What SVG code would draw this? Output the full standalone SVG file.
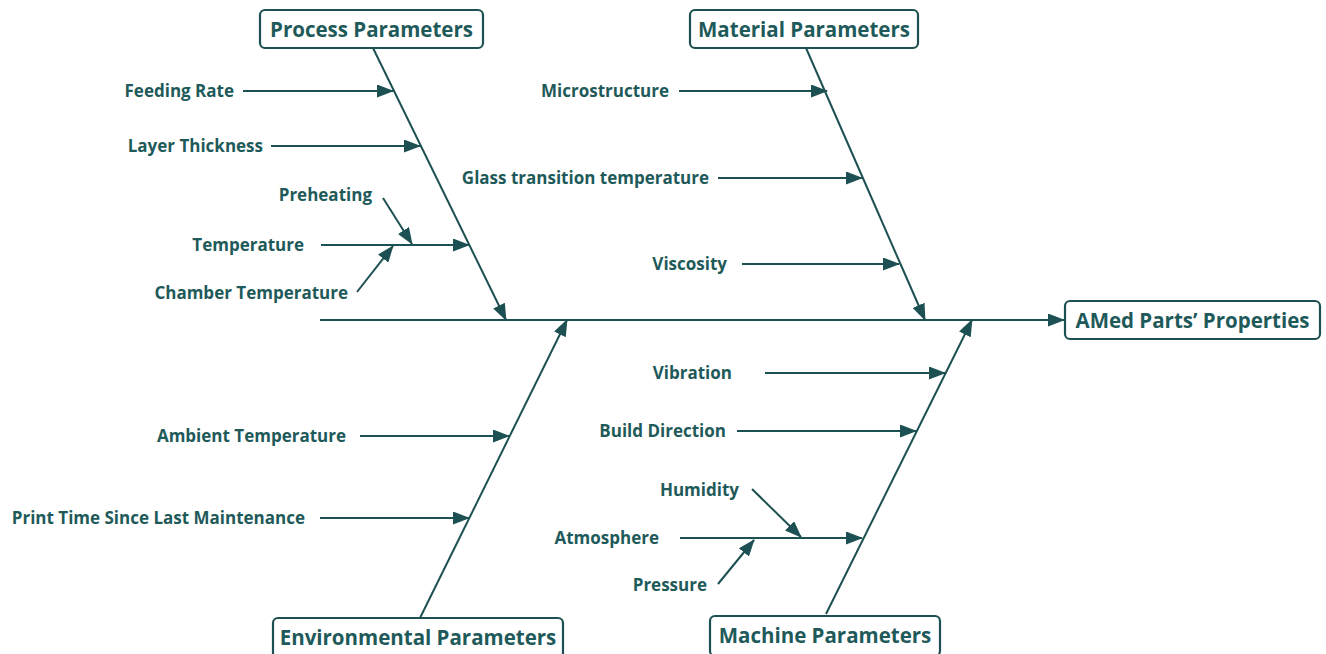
<svg xmlns="http://www.w3.org/2000/svg" width="1326" height="654" viewBox="0 0 1326 654">
<style>
.ln{stroke:#1d5052;stroke-width:2;fill:none}
.ar{marker-end:url(#ah)}
.lb{font-family:"Open Sans",Lato,sans-serif;font-weight:bold;font-size:17px;fill:#1f5a5a;text-anchor:end}
.bx{fill:#fff;stroke:#1d5052;stroke-width:2.2}
.tt{font-family:"Open Sans",Lato,sans-serif;font-weight:bold;font-size:20.5px;fill:#1f5a5a;text-anchor:middle}
</style>
<defs>
<marker id="ah" markerWidth="17" markerHeight="13" refX="16" refY="6.5" orient="auto" markerUnits="userSpaceOnUse">
<path d="M0,0 L17,6.5 L0,13 Z" fill="#1d5052"/>
</marker>
</defs>
<rect width="1326" height="654" fill="#fff"/>
<g id="connectors">
<line class="ln ar" x1="320" y1="320" x2="1064" y2="320"/>
<line class="ln ar" x1="373" y1="48" x2="506" y2="320"/>
<line class="ln ar" x1="806" y1="48" x2="925" y2="320"/>
<line class="ln ar" x1="420" y1="618" x2="567" y2="320"/>
<line class="ln ar" x1="826" y1="614" x2="972" y2="320"/>
<line class="ln ar" x1="243" y1="91" x2="393" y2="91"/>
<line class="ln ar" x1="271" y1="146" x2="420" y2="146"/>
<line class="ln ar" x1="321" y1="245" x2="469" y2="245"/>
<line class="ln ar" x1="383" y1="198" x2="412" y2="244"/>
<line class="ln ar" x1="357" y1="292" x2="393" y2="246"/>
<line class="ln ar" x1="679" y1="91" x2="827" y2="91"/>
<line class="ln ar" x1="718" y1="178" x2="862" y2="178"/>
<line class="ln ar" x1="742" y1="264" x2="899" y2="264"/>
<line class="ln ar" x1="360" y1="436" x2="509" y2="436"/>
<line class="ln ar" x1="320" y1="518" x2="469" y2="518"/>
<line class="ln ar" x1="765" y1="373" x2="945" y2="373"/>
<line class="ln ar" x1="737" y1="431" x2="916" y2="431"/>
<line class="ln ar" x1="680" y1="538" x2="862" y2="538"/>
<line class="ln ar" x1="752" y1="489" x2="801" y2="537"/>
<line class="ln ar" x1="718" y1="584" x2="754" y2="540"/>
</g>
<g id="process"><rect class="bx" x="260" y="10" width="223" height="38" rx="5"/><text class="tt" x="371.5" y="36.5">Process Parameters</text></g>
<g id="material"><rect class="bx" x="690" y="10" width="228" height="38" rx="5"/><text class="tt" x="804" y="36.5">Material Parameters</text></g>
<g id="environmental"><rect class="bx" x="273" y="618" width="290" height="40" rx="5"/><text class="tt" x="418" y="644.5">Environmental Parameters</text></g>
<g id="machine"><rect class="bx" x="710" y="616" width="230" height="40" rx="5"/><text class="tt" x="825" y="642.5">Machine Parameters</text></g>
<g id="result"><rect class="bx" x="1065" y="301" width="255" height="38" rx="5"/><text class="tt" x="1192.5" y="327.5">AMed Parts’ Properties</text></g>
<g id="labels">
<text class="lb" x="234" y="97">Feeding Rate</text>
<text class="lb" x="263" y="152">Layer Thickness</text>
<text class="lb" x="372" y="201">Preheating</text>
<text class="lb" x="304" y="251">Temperature</text>
<text class="lb" x="348" y="299">Chamber Temperature</text>
<text class="lb" x="669" y="97">Microstructure</text>
<text class="lb" x="709" y="184">Glass transition temperature</text>
<text class="lb" x="727" y="270">Viscosity</text>
<text class="lb" x="346" y="442">Ambient Temperature</text>
<text class="lb" x="305" y="524">Print Time Since Last Maintenance</text>
<text class="lb" x="732" y="379">Vibration</text>
<text class="lb" x="726" y="437">Build Direction</text>
<text class="lb" x="739" y="496">Humidity</text>
<text class="lb" x="659" y="544">Atmosphere</text>
<text class="lb" x="707" y="591">Pressure</text>
</g>
</svg>
